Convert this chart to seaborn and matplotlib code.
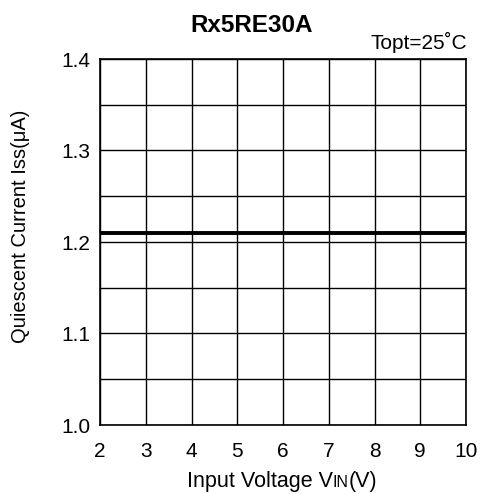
import matplotlib
matplotlib.use("Agg")
import matplotlib.pyplot as plt
import seaborn as sns
import pandas as pd
import numpy as np
from matplotlib.offsetbox import HPacker, TextArea, AnchoredOffsetbox

sns.set_theme(style="white")
plt.rcParams['font.family'] = ['Liberation Sans', 'DejaVu Sans']

vin = [2, 3, 4, 5, 6, 7, 8, 9, 10]
iss = [1.21, 1.21, 1.21, 1.21, 1.21, 1.21, 1.21, 1.21, 1.21]
xticks = [2, 3, 4, 5, 6, 7, 8, 9, 10]
yticks = [1.0, 1.1, 1.2, 1.3, 1.4]
yminor = [1.05, 1.15, 1.25, 1.35]

df = pd.DataFrame({"vin": vin, "iss": iss})

fig = plt.figure(figsize=(4.84, 4.94), dpi=100)
ax = fig.add_axes([100/484, 1-425/494, 366/484, 366/494])

sns.lineplot(data=df, x="vin", y="iss", ax=ax, color="black", linewidth=2.8)

ax.set_xlim(2, 10)
ax.set_ylim(1.0, 1.4)
ax.set_xticks(xticks)
ax.set_xticklabels([str(v) for v in xticks])
ax.set_yticks(yticks)
ax.set_yticklabels([f"{v:.1f}" for v in yticks])
ax.set_yticks(yminor, minor=True)
ax.grid(True, which="both", color="black", linewidth=1.0)
ax.set_axisbelow(True)
ax.tick_params(axis="both", which="both", length=0, labelsize=15, colors="black")
ax.tick_params(axis="x", pad=12)
ax.tick_params(axis="y", pad=7)
for s in ax.spines.values():
    s.set_color("black")
    s.set_linewidth(1.2)

ax.set_xlabel("")
ax.set_ylabel("")
fig.text(21/484, 1-226/494, "Quiescent Current Iss(\u03bcA)", rotation=90, ha="center", va="center",
         fontsize=14.5, color="black")

# x label with smaller "IN"
parts = [TextArea("Input Voltage V", textprops=dict(fontsize=15.5, color="black")),
         TextArea("IN", textprops=dict(fontsize=11.5, color="black")),
         TextArea("(V)", textprops=dict(fontsize=15.5, color="black"))]
box = HPacker(children=parts, align="baseline", pad=0, sep=0)
anch = AnchoredOffsetbox(loc="center", child=box, frameon=False,
                         bbox_to_anchor=(282/484, 1-481/494), bbox_transform=fig.transFigure, pad=0, borderpad=0)
fig.add_artist(anch)

fig.text(252/484, 1-25/494, "Rx5RE30A", ha="center", va="center", fontsize=17.5, fontweight="bold", color="black")
fig.text(467/484, 1-42/494, "Topt=25\u02daC", ha="right", va="center", fontsize=15, color="black")

fig.savefig("out.png", dpi=100, facecolor="white")
